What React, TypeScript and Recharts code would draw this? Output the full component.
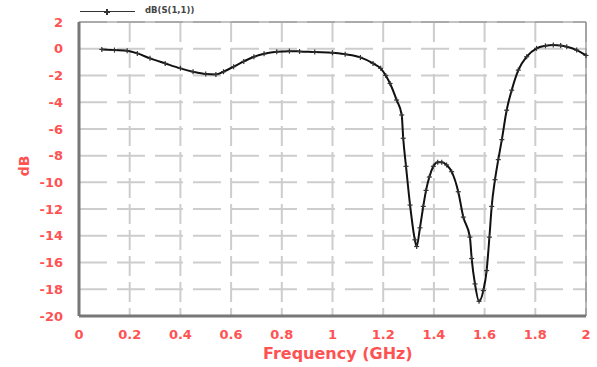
import { LineChart, Line, XAxis, YAxis, CartesianGrid, ReferenceLine } from 'recharts';

const freqGHz = [
    0.09, 0.14, 0.19, 0.23, 0.28, 0.34, 0.4, 0.45, 0.5, 0.54, 0.57, 0.61, 0.65, 0.69, 0.73,
    0.78, 0.83, 0.87, 0.93, 1.0, 1.05, 1.11, 1.16, 1.19, 1.21,
    1.227, 1.253, 1.273, 1.279, 1.29, 1.306, 1.325, 1.332, 1.345, 1.358, 1.369, 1.382,
    1.398, 1.415, 1.431, 1.45, 1.47, 1.496, 1.516, 1.542, 1.549, 1.562, 1.578, 1.595, 1.608, 1.619,
    1.628, 1.641, 1.654, 1.668, 1.687, 1.707, 1.733, 1.766, 1.805, 1.84, 1.871, 1.9, 1.924, 1.963, 2.0,
];

const s11dB = [
    -0.05, -0.1, -0.15, -0.35, -0.72, -1.1, -1.47, -1.72, -1.89, -1.92, -1.72, -1.34, -0.95, -0.6, -0.38,
    -0.22, -0.18, -0.2, -0.25, -0.3, -0.42, -0.65, -1.1, -1.47, -2.0,
    -2.6, -3.84, -4.96, -6.7, -8.8, -11.7, -14.3, -14.8, -13.4, -11.8, -10.6, -9.6,
    -8.8, -8.5, -8.5, -8.7, -9.2, -10.7, -12.6, -14.1, -15.7, -17.6, -18.9, -18.1, -16.6, -14.1,
    -11.8, -9.8, -8.3, -6.8, -4.6, -3.1, -1.6, -0.6, 0.03, 0.22, 0.28, 0.24, 0.15, -0.1, -0.5,
];

const xTicks = [0, 0.2, 0.4, 0.6, 0.8, 1, 1.2, 1.4, 1.6, 1.8, 2];
const yTicks = [-20, -18, -16, -14, -12, -10, -8, -6, -4, -2, 0, 2];

const chartData = freqGHz.map((f, i) => ({ f, db: s11dB[i] }));

const RED = '#ff5252';
const tickStyle = { fill: RED, fontSize: 13, fontWeight: 'bold', fontFamily: 'DejaVu Sans' };
const titleStyle = { color: RED, fontWeight: 'bold' as const, fontFamily: 'DejaVu Sans', position: 'absolute' as const, whiteSpace: 'nowrap' as const };

const PlusDot = (props: any) => {
    const { cx, cy } = props;
    if (cx == null || cy == null) return <g />;
    return (
        <g stroke="#333" strokeWidth={1.2}>
            <line x1={cx - 2.5} y1={cy} x2={cx + 2.5} y2={cy} />
            <line x1={cx} y1={cy - 2.5} x2={cx} y2={cy + 2.5} />
        </g>
    );
};

export default function App() {
    return (
        <div style={{ position: 'absolute', left: 0, top: 0, width: 597, height: 367 }}>
            <LineChart width={597} height={367} data={chartData} margin={{ top: 22, right: 11, left: 0, bottom: 0 }}>
                <CartesianGrid vertical={false} stroke="#cdcdcd" strokeWidth={2} strokeDasharray="28 10" />
                <CartesianGrid horizontal={false} stroke="#cdcdcd" strokeWidth={2} strokeDasharray="20 6" />
                <XAxis
                    dataKey="f"
                    type="number"
                    domain={[0, 2]}
                    ticks={xTicks}
                    height={51}
                    tickSize={0}
                    tickMargin={14}
                    axisLine={{ stroke: '#777', strokeWidth: 3 }}
                    tick={tickStyle}
                />
                <YAxis
                    type="number"
                    domain={[-20, 2]}
                    ticks={yTicks}
                    width={79}
                    tickSize={0}
                    tickMargin={16}
                    axisLine={{ stroke: '#777', strokeWidth: 3 }}
                    tick={tickStyle}
                />
                <ReferenceLine y={2} stroke="#888" strokeWidth={1.2} />
                <ReferenceLine x={2} stroke="#888" strokeWidth={1.2} />
                <Line
                    type="monotone"
                    dataKey="db"
                    stroke="#111"
                    strokeWidth={2}
                    dot={<PlusDot />}
                    isAnimationActive={false}
                />
            </LineChart>
            {/* legend, plain html so it is not a second svg on the page */}
            <div style={{ position: 'absolute', left: 80, top: 11, width: 55, height: 1, background: '#333' }} />
            <div style={{ position: 'absolute', left: 104, top: 10.5, width: 6, height: 2, background: '#333' }} />
            <div style={{ position: 'absolute', left: 106, top: 8.5, width: 2, height: 6, background: '#333' }} />
            <div style={{ position: 'absolute', left: 145, top: 5, fontSize: 8.5, fontWeight: 'bold', fontFamily: 'DejaVu Sans', color: '#444', whiteSpace: 'nowrap' }}>dB(S(1,1))</div>
            <div style={{ ...titleStyle, left: 263, top: 344, fontSize: 16 }}>Frequency (GHz)</div>
            <div style={{ ...titleStyle, left: 14, top: 158, fontSize: 14, transform: 'rotate(-90deg)' }}>dB</div>
        </div>
    );
}
